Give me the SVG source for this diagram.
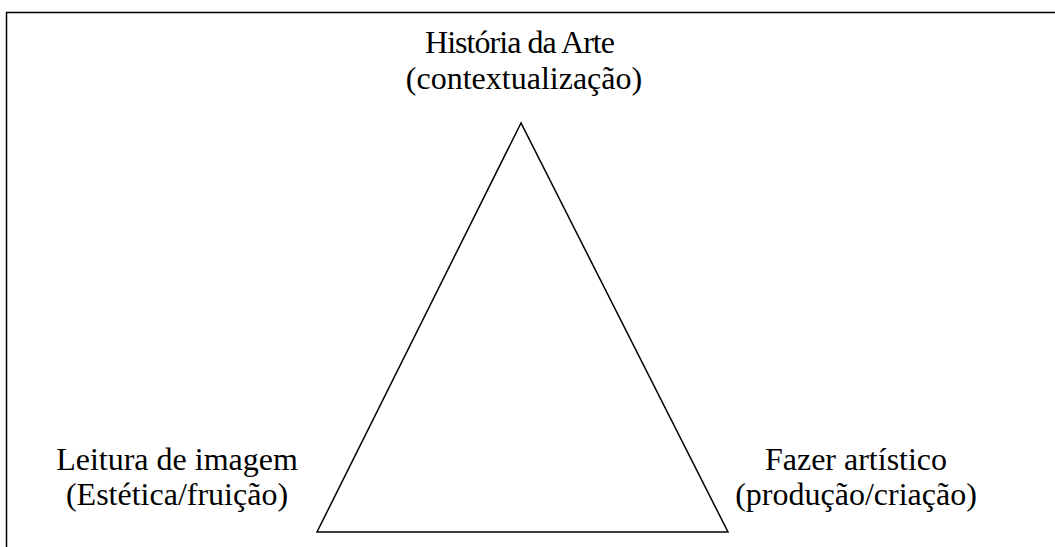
<svg xmlns="http://www.w3.org/2000/svg" width="1055" height="547" viewBox="0 0 1055 547">
<style>
.t{font-family:"Liberation Serif","Times New Roman",serif;font-size:32px;fill:#000;text-anchor:middle}
.ln{fill:none;stroke:#000;stroke-width:1.5}
</style>
<rect width="1055" height="547" fill="#fff"/>
<path class="ln" d="M6.5,547 V12.5 H1056"/>
<g id="connectors">
<polygon class="ln" points="521,123 317,532 728,532"/>
</g>
<g id="historia">
<text class="t" x="520" y="53" textLength="190">História da Arte</text>
<text class="t" x="524" y="89">(contextualização)</text>
</g>
<g id="leitura">
<text class="t" x="177" y="470">Leitura de imagem</text>
<text class="t" x="177" y="505">(Estética/fruição)</text>
</g>
<g id="fazer">
<text class="t" x="856" y="470">Fazer artístico</text>
<text class="t" x="856" y="505">(produção/criação)</text>
</g>
</svg>
